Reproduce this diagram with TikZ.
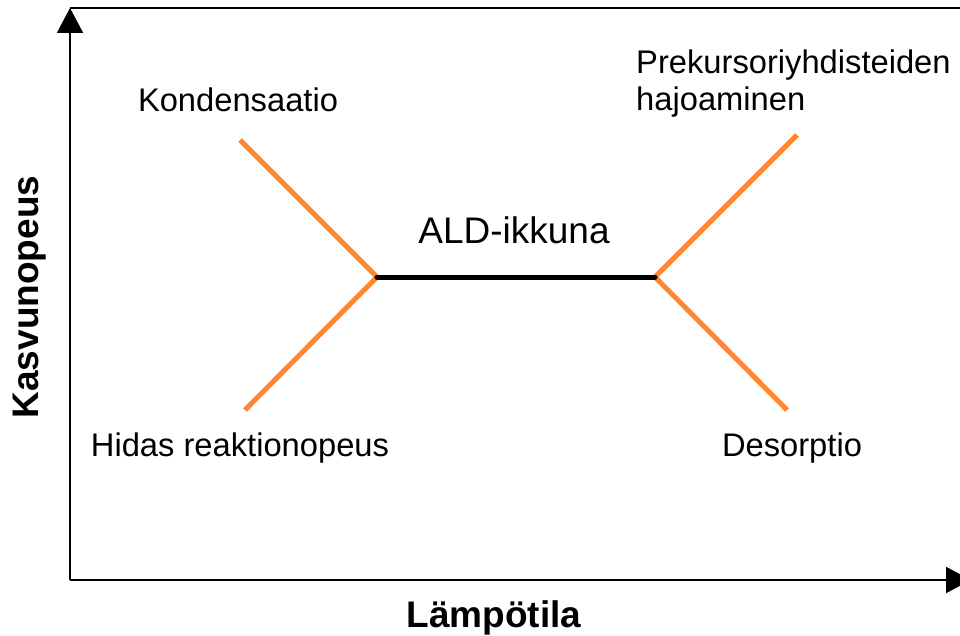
\documentclass[tikz,border=0pt]{standalone}
\usepackage{fontspec}
\setmainfont{Liberation Sans}
\usetikzlibrary{arrows.meta}
\definecolor{ldorange}{RGB}{255,135,50}
\tikzset{
  axis/.style={line width=2pt, -{Triangle[width=26pt,length=25pt]}},
  branch/.style={ldorange, line width=5pt},
  window/.style={black, line width=5pt},
  lbl/.style={font=\fontsize{32.7}{38}\selectfont, inner sep=0pt, anchor=base},
  axlbl/.style={font=\fontsize{37}{40}\selectfont\bfseries, inner sep=0pt}
}
\begin{document}
\begin{tikzpicture}[x=1pt,y=-1pt]
\useasboundingbox (0,0) rectangle (960,636);
\clip (0,0) rectangle (960,636);
\fill[white] (0,0) rectangle (960,636);
% axes
\coordinate (O) at (70,580);
\coordinate (ytip) at (70,8);
\coordinate (xtip) at (971,580);
\coordinate (topend) at (962,8);
\draw[axis] (O) -- (ytip);
\draw[axis] (O) -- (xtip);
\draw[line width=2pt] (ytip) -- (topend);
% branches
\coordinate (L) at (377,277);
\coordinate (R) at (655,277);
\coordinate (kond) at (240,140);
\coordinate (hidas) at (245,410);
\coordinate (prek) at (797,135);
\coordinate (deso) at (787,410);
\draw[branch] (kond) -- (L);
\draw[branch] (hidas) -- (L);
\draw[branch] (R) -- (prek);
\draw[branch] (R) -- (deso);
\draw[window, line cap=round] (L) -- (R);
% labels
\node[lbl] (tkond) at (238,112) {Kondensaatio};
\node[lbl, anchor=base west] (tprek1) at (636,74) {Prekursoriyhdisteiden};
\node[lbl, anchor=base west] (tprek2) at (636,111) {hajoaminen};
\node[lbl] (thidas) at (240,456) {Hidas reaktionopeus};
\node[lbl] (tdeso) at (792,456) {Desorptio};
\node[font=\fontsize{37}{40}\selectfont, inner sep=0pt] (tald) at (514,230) {ALD-ikkuna};
\node[axlbl] (tx) at (494,618) {Lämpötila};
\node[axlbl, rotate=90] (ty) at (30,297) {Kasvunopeus};
\end{tikzpicture}
\end{document}
